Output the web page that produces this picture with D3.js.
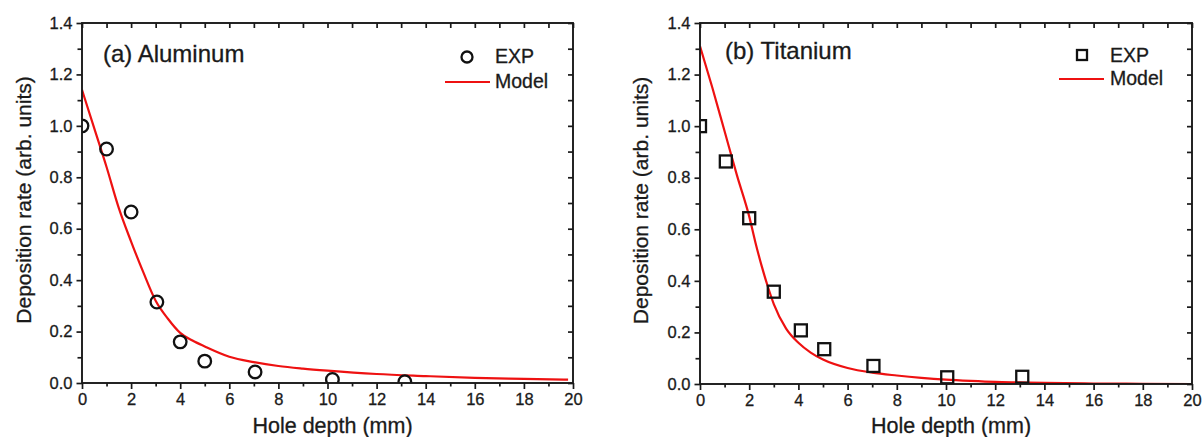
<!DOCTYPE html>
<html><head><meta charset="utf-8">
<script src="https://cdn.jsdelivr.net/npm/d3@7"></script>
<style>body{margin:0;background:#fff}svg{display:block}text{font-family:Arial,"Liberation Sans",sans-serif;fill:#1a1a1a;stroke:#1a1a1a;stroke-width:0.3px}</style>
</head><body>
<svg id="c" width="1204" height="437"></svg>
<script>
// ---------- data ----------
const xTicks = [0, 2, 4, 6, 8, 10, 12, 14, 16, 18, 20];
const yTicks = [0.0, 0.2, 0.4, 0.6, 0.8, 1.0, 1.2, 1.4];

const alExpX = [0, 1, 2, 3.05, 4, 5, 7.05, 10.2, 13.15];
const alExpY = [1.0, 0.91, 0.665, 0.315, 0.16, 0.085, 0.043, 0.014, 0.005];
const alModelX = [0, 0.5, 1, 1.5, 2, 2.5, 3, 3.5, 4, 4.5, 5, 6, 7, 8, 9, 10, 12, 14, 16, 18, 19.8];
const alModelY = [1.14, 0.99, 0.84, 0.68, 0.55, 0.43, 0.32, 0.25, 0.195, 0.165, 0.142, 0.102, 0.081, 0.066, 0.056, 0.048, 0.035, 0.027, 0.02, 0.016, 0.013];

const tiExpX = [0, 1.05, 2, 3, 4.1, 5.05, 7.05, 10.05, 13.1];
const tiExpY = [1.0, 0.863, 0.643, 0.358, 0.208, 0.135, 0.07, 0.026, 0.028];
const tiModelX = [0, 0.5, 1, 1.5, 2, 2.25, 2.5, 2.75, 3, 3.5, 4, 4.5, 5, 6, 7, 8, 9, 10, 11, 12, 13, 14, 16, 18, 20];
const tiModelY = [1.31, 1.15, 0.98, 0.81, 0.65, 0.55, 0.46, 0.38, 0.31, 0.215, 0.16, 0.122, 0.095, 0.062, 0.044, 0.033, 0.024, 0.017, 0.012, 0.008, 0.006, 0.004, 0.002, 0.001, 0.0];

const panels = [
  {id: "a", label: "(a) Aluminum", marker: "circle", expX: alExpX, expY: alExpY, modX: alModelX, modY: alModelY,
   left: 82, right: 573, top: 23, bottom: 383, ytitleX: 23,
   legSym: [467, 57], legText: 495, legLine: [445, 490, 82], legY: [63, 88], labelPos: [103, 62]},
  {id: "b", label: "(b) Titanium", marker: "square", expX: tiExpX, expY: tiExpY, modX: tiModelX, modY: tiModelY,
   left: 700, right: 1192, top: 23, bottom: 384, ytitleX: 640,
   legSym: [1082, 55], legText: 1110, legLine: [1059, 1104, 79], legY: [61.5, 85], labelPos: [725, 59]}
];

const svg = d3.select("#c");
const red = "#ee1111";
const ink = "#1a1a1a";

panels.forEach(p => {
  const x = d3.scaleLinear().domain([0, 20]).range([p.left, p.right]);
  const y = d3.scaleLinear().domain([0, 1.4]).range([p.bottom, p.top]);
  const g = svg.append("g");

  const clipId = "clip" + p.id;
  svg.append("clipPath").attr("id", clipId).append("rect")
    .attr("x", p.left).attr("y", p.top).attr("width", p.right - p.left).attr("height", p.bottom - p.top);

  // model line
  const modData = p.modX.map((v, i) => [v, p.modY[i]]);
  g.append("path").datum(modData)
    .attr("clip-path", `url(#${clipId})`)
    .attr("fill", "none").attr("stroke", red).attr("stroke-width", 2.2)
    .attr("d", d3.line().x(d => x(d[0])).y(d => y(d[1])).curve(d3.curveMonotoneX));

  // exp markers
  const expData = p.expX.map((v, i) => [v, p.expY[i]]);
  const mg = g.append("g").attr("clip-path", `url(#${clipId})`);
  if (p.marker === "circle") {
    mg.selectAll("circle").data(expData).join("circle")
      .attr("cx", d => x(d[0])).attr("cy", d => y(d[1])).attr("r", 6.3)
      .attr("fill", "none").attr("stroke", "#111").attr("stroke-width", 2.3);
  } else {
    mg.selectAll("rect").data(expData).join("rect")
      .attr("x", d => x(d[0]) - 6).attr("y", d => y(d[1]) - 6).attr("width", 12).attr("height", 12)
      .attr("fill", "none").attr("stroke", "#111").attr("stroke-width", 2.3);
  }

  // axes
  const bottom = g.append("g").attr("transform", `translate(0,${p.bottom})`)
    .call(d3.axisBottom(x).tickValues(xTicks).tickSize(6).tickPadding(4).tickFormat(d3.format("d")));
  g.append("g").attr("transform", `translate(0,${p.bottom})`)
    .call(d3.axisBottom(x).tickValues(d3.range(1, 20, 2)).tickSize(3.5).tickFormat(""));
  const left = g.append("g").attr("transform", `translate(${p.left},0)`)
    .call(d3.axisLeft(y).tickValues(yTicks).tickSize(5.5).tickPadding(4).tickFormat(d3.format(".1f")));
  g.append("g").attr("transform", `translate(${p.left},0)`)
    .call(d3.axisLeft(y).tickValues(d3.range(0.1, 1.4, 0.2)).tickSize(4.5).tickFormat(""));
  // top/right mirror ticks (inward)
  g.append("g").attr("transform", `translate(0,${p.top})`)
    .call(d3.axisBottom(x).tickValues(d3.range(0, 21, 1)).tickSize(5).tickFormat(""));
  g.append("g").attr("transform", `translate(${p.right},0)`)
    .call(d3.axisLeft(y).tickValues(d3.range(0, 1.41, 0.1)).tickSize(5).tickFormat(""));

  g.selectAll(".domain").remove();
  g.selectAll(".tick line").attr("stroke", ink).attr("stroke-width", 1.7);
  bottom.selectAll("text").attr("font-size", 16.5).attr("fill", ink).attr("font-family", "Arial, 'Liberation Sans', sans-serif");
  left.selectAll("text").attr("font-size", 16.5).attr("fill", ink).attr("font-family", "Arial, 'Liberation Sans', sans-serif");

  // frame
  g.append("rect").attr("x", p.left).attr("y", p.top)
    .attr("width", p.right - p.left).attr("height", p.bottom - p.top)
    .attr("fill", "none").attr("stroke", ink).attr("stroke-width", 1.9);

  // axis titles
  g.append("text").attr("x", (p.left + p.right) / 2 + 5).attr("y", 433)
    .attr("text-anchor", "middle").attr("font-size", 21.5).text("Hole depth (mm)");
  g.append("text").attr("transform", `translate(${p.ytitleX},${(p.top + p.bottom) / 2 - 3}) rotate(-90)`)
    .attr("text-anchor", "middle").attr("dominant-baseline", "central").attr("font-size", 21)
    .text("Deposition rate (arb. units)");

  // panel label
  g.append("text").attr("x", p.labelPos[0]).attr("y", p.labelPos[1])
    .attr("font-size", 24).text(p.label);

  // legend
  if (p.marker === "circle") {
    g.append("circle").attr("cx", p.legSym[0]).attr("cy", p.legSym[1]).attr("r", 5.5)
      .attr("fill", "none").attr("stroke", "#111").attr("stroke-width", 2.3);
  } else {
    g.append("rect").attr("x", p.legSym[0] - 5).attr("y", p.legSym[1] - 5).attr("width", 10).attr("height", 10)
      .attr("fill", "none").attr("stroke", "#111").attr("stroke-width", 2.3);
  }
  g.append("line").attr("x1", p.legLine[0]).attr("x2", p.legLine[1]).attr("y1", p.legLine[2]).attr("y2", p.legLine[2])
    .attr("stroke", red).attr("stroke-width", 2.2);
  g.append("text").attr("x", p.legText).attr("y", p.legY[0]).attr("font-size", 19.5).text("EXP");
  g.append("text").attr("x", p.legText).attr("y", p.legY[1]).attr("font-size", 19.5).text("Model");
});
</script>
</body></html>
